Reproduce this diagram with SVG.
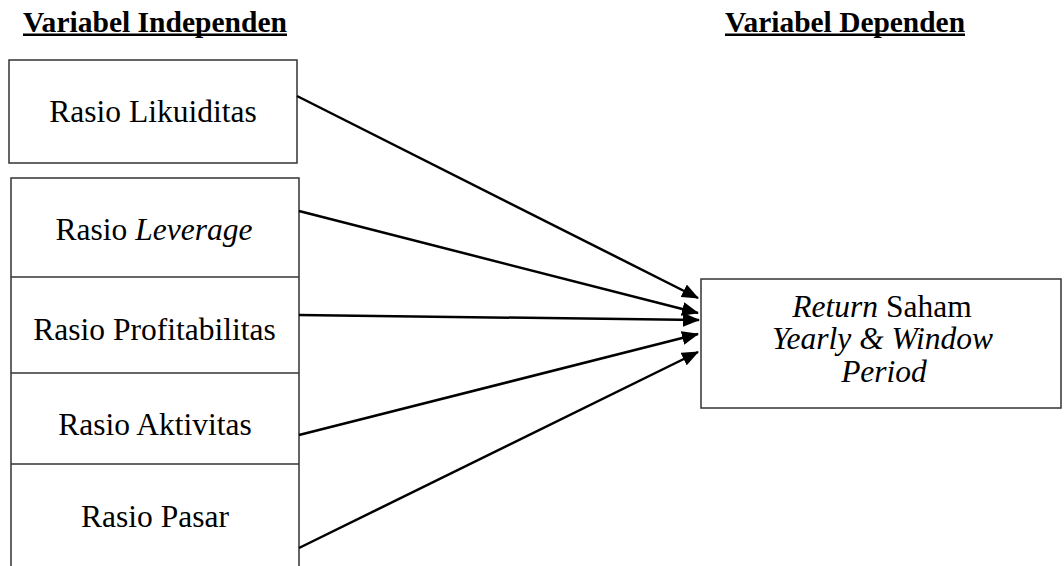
<svg xmlns="http://www.w3.org/2000/svg" width="1064" height="566" viewBox="0 0 1064 566">
<style>
.box{fill:#fff;stroke:#333;stroke-width:1.5}
.ln{stroke:#333;stroke-width:1.5;fill:none}
text{font-family:'Liberation Serif','Times New Roman',Times,'DejaVu Serif',serif;fill:#000}
.t{font-size:31.5px;text-anchor:middle}
.h{font-size:30px;font-weight:bold}
.c{stroke:#000;stroke-width:2.5;fill:none;marker-end:url(#ah)}
</style>
<defs>
<marker id="ah" markerUnits="userSpaceOnUse" markerWidth="18" markerHeight="14" refX="16" refY="7" orient="auto">
<path d="M0,0 L17,7 L0,14 Z" fill="#000"/>
</marker>
</defs>
<rect width="1064" height="566" fill="#fff"/>
<g id="headers">
<text class="h" x="23" y="32" textLength="264" lengthAdjust="spacingAndGlyphs">Variabel Independen</text>
<rect x="23" y="33.5" width="264" height="2.5" fill="#000"/>
<text class="h" x="725" y="32" textLength="240" lengthAdjust="spacingAndGlyphs">Variabel Dependen</text>
<rect x="725" y="33.5" width="240" height="2.5" fill="#000"/>
</g>
<g id="likuiditas">
<rect class="box" x="9" y="60" width="288" height="103"/>
<text class="t" x="153" y="122">Rasio Likuiditas</text>
</g>
<g id="stack">
<path class="ln" d="M11,566 L11,178 L299,178 L299,566"/>
</g>
<g id="leverage">
<text class="t" x="154" y="240">Rasio <tspan font-style="italic">Leverage</tspan></text>
<line class="ln" x1="11" y1="277" x2="299" y2="277"/>
</g>
<g id="profitabilitas">
<text class="t" x="154.5" y="340">Rasio Profitabilitas</text>
<line class="ln" x1="11" y1="373" x2="299" y2="373"/>
</g>
<g id="aktivitas">
<text class="t" x="155" y="435">Rasio Aktivitas</text>
<line class="ln" x1="11" y1="464" x2="299" y2="464"/>
</g>
<g id="pasar">
<text class="t" x="155" y="527">Rasio Pasar</text>
</g>
<g id="return">
<rect class="box" x="701" y="279" width="360" height="129"/>
<text class="t" x="882" y="317"><tspan font-style="italic">Return</tspan> Saham</text>
<text class="t" x="882.5" y="349" font-style="italic">Yearly &amp; Window</text>
<text class="t" x="884" y="382" font-style="italic">Period</text>
</g>
<g id="connectors">
<line class="c" x1="297" y1="96" x2="698" y2="298"/>
<line class="c" x1="299" y1="211" x2="698" y2="313"/>
<line class="c" x1="299" y1="315" x2="699" y2="320"/>
<line class="c" x1="299" y1="435" x2="698" y2="334"/>
<line class="c" x1="299" y1="548" x2="698" y2="352"/>
</g>
</svg>
